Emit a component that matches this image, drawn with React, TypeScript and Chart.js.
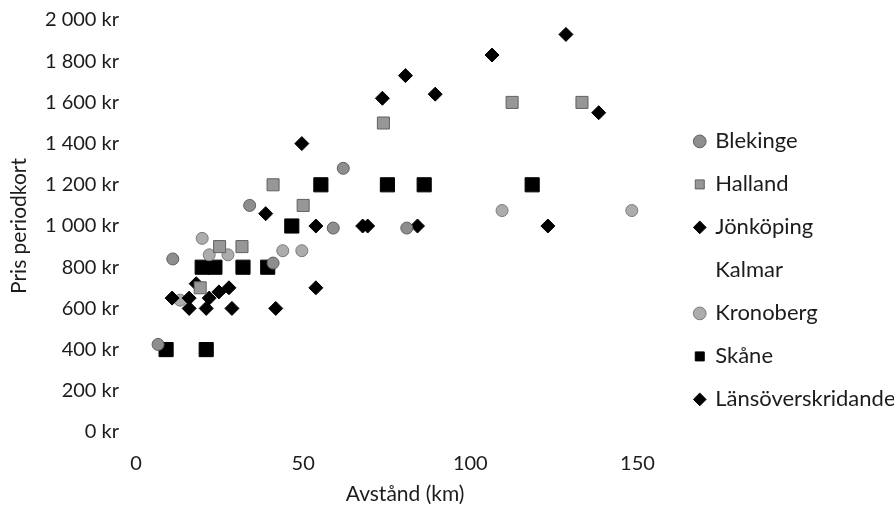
import React, { useEffect, useRef } from "react";
import { Chart, registerables } from "chart.js";

Chart.register(...registerables);

// Blekinge (km, kr)
const blekingeKm = [62, 59, 81, 11, 34, 41, 6.6];
const blekingePris = [1280, 990, 990, 840, 1100, 820, 425];

// Halland
const hallandKm = [41, 74, 112.5, 133.4, 50, 25, 31.7, 19.2];
const hallandPris = [1200, 1500, 1600, 1600, 1100, 900, 900, 700];

// Jönköping
const jonkopingKm = [18, 10.8, 15.9, 15.9, 21.9, 21, 24.8, 27.8, 28.7, 41.8, 53.8, 38.8, 53.8];
const jonkopingPris = [720, 650, 650, 600, 650, 600, 680, 700, 600, 600, 700, 1060, 1000];

// Kalmar (no visible points)
const kalmarKm: number[] = [];
const kalmarPris: number[] = [];

// Kronoberg
const kronobergKm = [109.5, 148.3, 19.8, 21.9, 27.5, 43.9, 49.6, 13.2];
const kronobergPris = [1075, 1075, 940, 860, 860, 880, 880, 640];

// Skåne
const skaneKm = [9, 21, 19.8, 23.6, 32, 39.4, 46.6, 55.3, 75.2, 86.2, 118.5];
const skanePris = [400, 400, 800, 800, 800, 800, 1000, 1200, 1200, 1200, 1200];

// Länsöverskridande
const lansKm = [128.6, 106.5, 80.6, 89.5, 73.7, 138.4, 49.6, 67.8, 69.3, 84.2, 123.2];
const lansPris = [1930, 1830, 1730, 1640, 1620, 1550, 1400, 1000, 1000, 1000, 1000];

const xTicks = [0, 50, 100, 150];
const yTicks = [0, 200, 400, 600, 800, 1000, 1200, 1400, 1600, 1800, 2000];

const pts = (xs: number[], ys: number[]) => xs.map((x, i) => ({ x, y: ys[i] }));

const FONT = "Lato";
const TEXT = "#1c1c1c";

function fmtKr(v: number) {
  const s = Math.round(v).toString().replace(/\B(?=(\d{3})+(?!\d))/g, " ");
  return s + " kr";
}

export default function App() {
  const ref = useRef<HTMLCanvasElement | null>(null);
  useEffect(() => {
    if (!ref.current) return;
    const chart = new Chart(ref.current, {
      type: "scatter",
      data: {
        datasets: [
          {
            label: "Blekinge",
            data: pts(blekingeKm, blekingePris),
            pointStyle: "circle",
            pointRadius: 6,
            backgroundColor: "#8e8e8e",
            borderColor: "#5e5e5e",
            borderWidth: 1,
          },
          {
            label: "Halland",
            data: pts(hallandKm, hallandPris),
            pointStyle: "rect",
            pointRadius: 8.5,
            backgroundColor: "#979797",
            borderColor: "#606060",
            borderWidth: 1,
          },
          {
            label: "Jönköping",
            data: pts(jonkopingKm, jonkopingPris),
            pointStyle: "rectRot",
            pointRadius: 7,
            backgroundColor: "#000000",
            borderColor: "#000000",
            borderWidth: 1,
          },
          {
            label: "Kalmar",
            data: pts(kalmarKm, kalmarPris),
            pointStyle: "circle",
            pointRadius: 6,
            backgroundColor: "rgba(0,0,0,0)",
            borderColor: "rgba(0,0,0,0)",
            borderWidth: 0,
          },
          {
            label: "Kronoberg",
            data: pts(kronobergKm, kronobergPris),
            pointStyle: "circle",
            pointRadius: 6,
            backgroundColor: "#acacac",
            borderColor: "#7a7a7a",
            borderWidth: 1,
          },
          {
            label: "Skåne",
            data: pts(skaneKm, skanePris),
            pointStyle: "rect",
            pointRadius: 10,
            backgroundColor: "#000000",
            borderColor: "#000000",
            borderWidth: 1,
          },
          {
            label: "Länsöverskridande",
            data: pts(lansKm, lansPris),
            pointStyle: "rectRot",
            pointRadius: 7,
            backgroundColor: "#000000",
            borderColor: "#000000",
            borderWidth: 1,
          },
        ],
      },
      options: {
        animation: false,
        responsive: true,
        maintainAspectRatio: false,
        layout: { autoPadding: false, padding: { top: 20, left: 0, right: -5, bottom: 0 } },
        plugins: {
          tooltip: { enabled: false },
          legend: {
            position: "right",
            align: "center",
            title: { display: true, text: "", font: { size: 4 }, padding: 0 },
            labels: {
              usePointStyle: true,
              boxWidth: 9,
              boxHeight: 9,
              padding: 21,
              color: TEXT,
              font: { family: FONT, size: 22 },
            },
          },
        },
        scales: {
          x: {
            type: "linear",
            min: 0,
            max: 161,
            afterBuildTicks: (axis: any) => {
              axis.ticks = xTicks.map((v) => ({ value: v }));
            },
            afterFit: (axis: any) => {
              axis.height = 84;
              axis.paddingLeft = 0;
              axis.paddingRight = 0;
            },
            grid: { display: false, drawTicks: false },
            border: { display: false },
            ticks: { color: TEXT, font: { family: FONT, size: 20 }, padding: 20 },
            title: {
              display: true,
              text: "Avstånd (km)",
              color: TEXT,
              font: { family: FONT, size: 21 },
              padding: { top: 9, bottom: 9 },
            },
          },
          y: {
            type: "linear",
            min: 0,
            max: 2000,
            afterBuildTicks: (axis: any) => {
              axis.ticks = yTicks.map((v) => ({ value: v }));
            },
            afterFit: (axis: any) => {
              axis.width = 136;
              axis.paddingTop = 0;
              axis.paddingBottom = 0;
            },
            grid: { display: false, drawTicks: false },
            border: { display: false },
            ticks: {
              color: TEXT,
              font: { family: FONT, size: 20 },
              padding: 17,
              callback: (v: any) => fmtKr(Number(v)),
            },
            title: {
              display: true,
              text: "Pris periodkort",
              color: TEXT,
              font: { family: FONT, size: 21 },
              padding: { top: 7, bottom: 7 },
            },
          },
        },
      },
    });
    return () => chart.destroy();
  }, []);
  return (
    <div style={{ position: "fixed", left: 0, top: 0, width: 894, height: 516, background: "#fff" }}>
      <canvas ref={ref} />
    </div>
  );
}
